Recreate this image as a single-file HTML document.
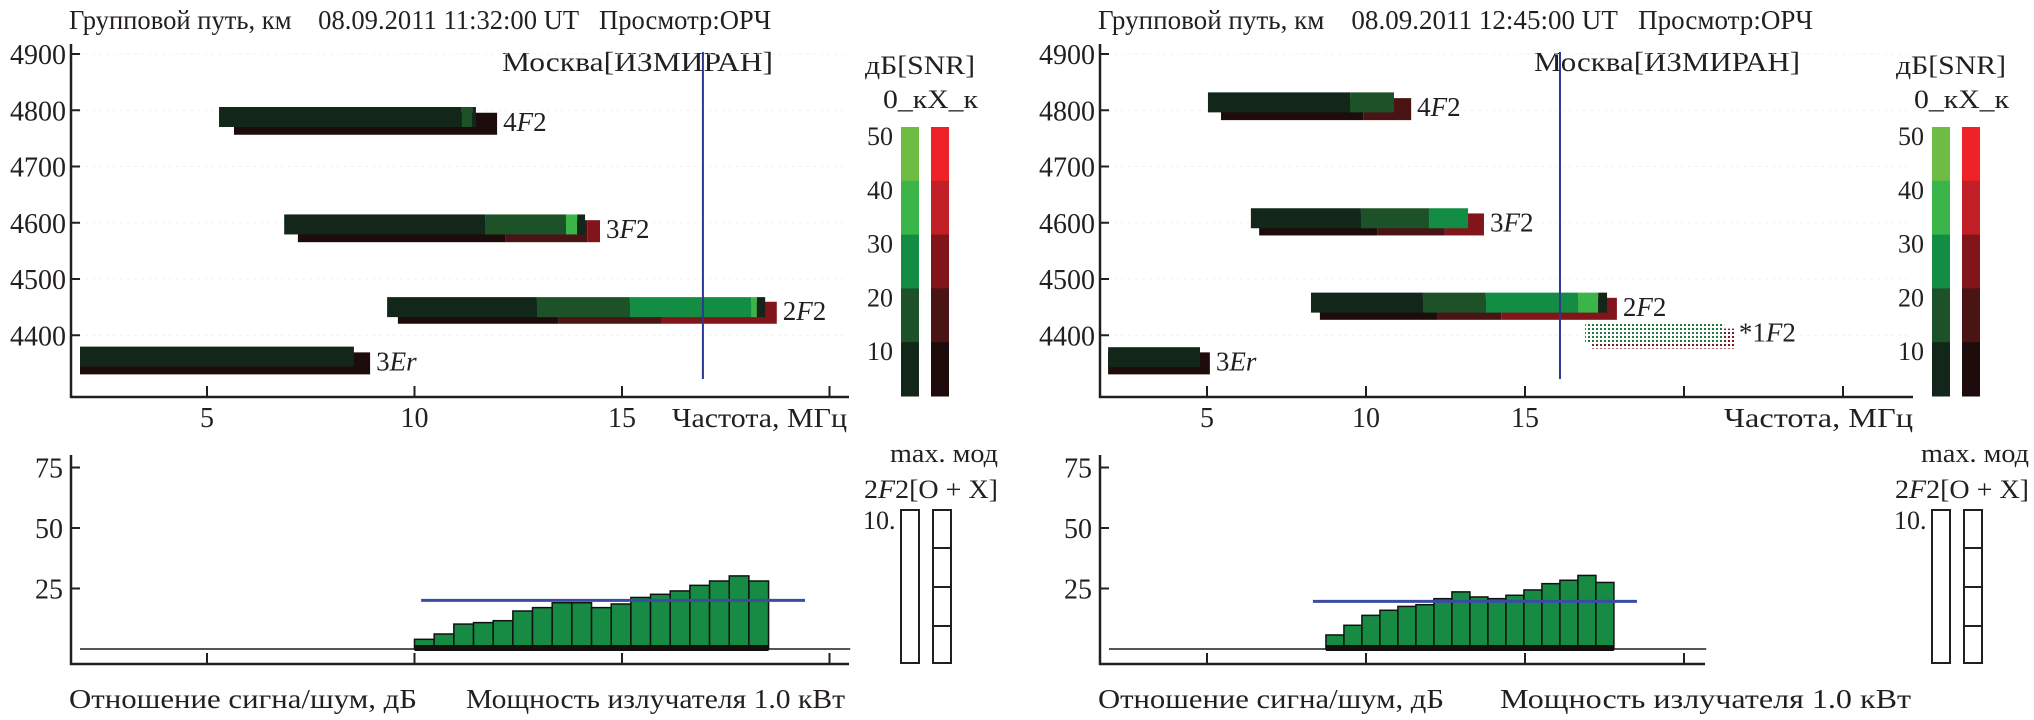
<!DOCTYPE html>
<html><head><meta charset="utf-8">
<style>
html,body{margin:0;padding:0;background:#fff;}
svg{display:block;}
text{font-family:"Liberation Serif","DejaVu Serif",serif;fill:#231f20;}
</style></head>
<body>
<svg id="chart" width="2034" height="720" viewBox="0 0 2034 720" xmlns="http://www.w3.org/2000/svg">
<defs>
<pattern id="dotG" width="4" height="4" patternUnits="userSpaceOnUse"><rect width="2" height="2" fill="#1d7a3a"/></pattern>
<pattern id="dotR" width="4" height="4" patternUnits="userSpaceOnUse"><rect width="2" height="2" fill="#7a1a1e"/></pattern>
</defs>
</svg>
<script>
// ---------- shared scales ----------
const kmTicks = [4900, 4800, 4700, 4600, 4500, 4400];
const snrTicks = [25, 50, 75];
const cbLevels = [50, 40, 30, 20, 10];
const greenPal = ['#12261a', '#1d5229', '#138d43', '#3bb54a', '#6dbd45'];
const redPal = ['#1e0b0c', '#4a1314', '#82151a', '#c21f26', '#ee2227'];

// ---------- left panel data (11:32) ----------
const L_freqTicks = [5, 10, 15, 20];
const L_freqLabels = [5, 10, 15];
const L_traceNames = ['4F2', '3F2', '2F2', '3Er'];
const L_oKm = [4788, 4597, 4450, 4362];
const L_xKm = [4776, 4585, 4440, 4350];
const L_oBounds = [[5.29, 11.14, 11.39, 11.48], [6.86, 11.70, 13.65, 13.92, 14.11], [9.34, 12.95, 15.19, 18.11, 18.25, 18.45], [1.94, 8.54]];
const L_oLevels = [[0, 1, 0], [0, 1, 3, 0], [0, 1, 2, 3, 0], [0]];
const L_xBounds = [[5.65, 11.99], [7.19, 12.20, 14.16, 14.47], [9.60, 13.46, 15.94, 18.73], [1.94, 8.93]];
const L_xLevels = [[0], [0, 1, 2], [0, 1, 2], [0]];
const L_markerFreq = 16.95;
const L_barStart = 10.0;
const L_barWidth = 0.474;
const L_snr = [4.0, 6.2, 10.3, 10.9, 11.7, 15.7, 17.1, 19.1, 19.1, 17.1, 18.6, 21.3, 22.6, 24.0, 26.3, 28.1, 30.2, 28.1];
const L_threshold = 20.1;
const L_threshFrom = 10.16, L_threshTo = 19.41;
const L_title = 'Групповой путь, км\u00a0\u00a0\u00a0\u00a008.09.2011 11:32:00 UT\u00a0\u00a0\u00a0Просмотр:ОРЧ';

// ---------- right panel data (12:45) ----------
const R_freqTicks = [5, 10, 15, 20, 25];
const R_freqLabels = [5, 10, 15];
const R_traceNames = ['4F2', '3F2', '2F2', '3Er'];
const R_oKm = [4814, 4608, 4458, 4361];
const R_xKm = [4802, 4597, 4447, 4350];
const R_oBounds = [[5.03, 9.50, 10.88], [6.38, 9.84, 11.98, 13.21], [8.27, 11.79, 13.77, 16.67, 17.30, 17.58], [1.89, 4.78]];
const R_oLevels = [[0, 1], [0, 1, 2], [0, 1, 2, 3, 0], [0]];
const R_xBounds = [[5.44, 9.91, 11.42], [6.64, 10.35, 12.48, 13.71], [8.55, 12.26, 14.25, 17.89], [1.89, 5.09]];
const R_xLevels = [[0, 1], [0, 1, 2], [0, 1, 2], [0]];
const R_dotName = '*1F2';
const R_dotOKm = 4403, R_dotXKm = 4394;
const R_dotO = [16.89, 21.26];
const R_dotX = [17.11, 21.60];
const R_markerFreq = 16.10;
const R_barStart = 8.74;
const R_barWidth = 0.566;
const R_snr = [5.8, 9.8, 13.9, 16.0, 17.6, 18.3, 20.8, 23.6, 21.5, 20.8, 22.2, 24.4, 27.0, 28.4, 30.4, 27.5];
const R_threshold = 19.7;
const R_threshFrom = 8.33, R_threshTo = 18.52;
const R_title = 'Групповой путь, км\u00a0\u00a0\u00a0\u00a008.09.2011 12:45:00 UT\u00a0\u00a0\u00a0Просмотр:ОРЧ';

const NS = 'http://www.w3.org/2000/svg';
const svg = document.getElementById('chart');
function mk(tag, attrs, parent) {
  const e = document.createElementNS(NS, tag);
  for (const k in attrs) e.setAttribute(k, attrs[k]);
  (parent || svg).appendChild(e);
  return e;
}
function yKm(km) { return 54 + (4900 - km) * 0.5625; }
function ySnr(v) { return 649 - v * 2.42; }

function labelWithItalic(g, x, y, name, size) {
  const t = mk('text', {x: x, y: y, 'font-size': size}, g);
  const m = name.match(/^(\*?\d)([A-Za-z]+)(\d*)$/);
  const a = document.createElementNS(NS, 'tspan'); a.textContent = m[1]; t.appendChild(a);
  const b = document.createElementNS(NS, 'tspan'); b.textContent = m[2]; b.setAttribute('font-style', 'italic'); t.appendChild(b);
  if (m[3]) { const c = document.createElementNS(NS, 'tspan'); c.textContent = m[3]; t.appendChild(c); }
  return t;
}

function drawPanel(P) {
  const xF = f => P.x5 + P.pxPerMHz * (f - 5);
  const g = mk('g', {});
  
  

  const tt = mk('text', {x: P.axisX - 2, y: 29, 'font-size': 27, textLength: P.titleLen, lengthAdjust: 'spacingAndGlyphs'}, g);
  tt.textContent = P.title;
  
  
  const st = mk('text', {x: P.stationX, y: 71, 'font-size': 27, textLength: P.stationLen, lengthAdjust: 'spacingAndGlyphs'}, g);
  st.textContent = 'Москва[ИЗМИРАН]';
  
  

  const top = mk('g', {}, g);
  
  
  kmTicks.forEach(k => {
    const l = mk('line', {x1: P.axisX, x2: P.axisEnd, y1: yKm(k), y2: yKm(k), stroke: '#f0f0f0', 'stroke-width': 1, 'stroke-dasharray': '3 4'}, top);
    
    
  });
  P.traceNames.forEach((nm, i) => {
    const bx = P.xBounds[i];
    for (let s = 0; s < bx.length - 1; s++) {
      const r = mk('rect', {x: xF(bx[s]), y: yKm(P.xKm[i]) - 11, width: xF(bx[s + 1]) - xF(bx[s]), height: 22, fill: redPal[P.xLevels[i][s]]}, top);
      
      
    }
    const bo = P.oBounds[i];
    for (let s = 0; s < bo.length - 1; s++) {
      const r = mk('rect', {x: xF(bo[s]), y: yKm(P.oKm[i]) - 10, width: xF(bo[s + 1]) - xF(bo[s]), height: 20, fill: greenPal[P.oLevels[i][s]]}, top);
      
      
    }
    const endX = Math.max(xF(bo[bo.length - 1]), xF(bx[bx.length - 1]));
    const lb = labelWithItalic(top, endX + 6, Math.max(yKm(P.oKm[i]), yKm(P.xKm[i])) + 7, nm, 27);
    
    
  });
  if (P.dot) {
    const r1 = mk('rect', {x: xF(P.dot.x[0]), y: yKm(P.dot.xKm) - 10, width: xF(P.dot.x[1]) - xF(P.dot.x[0]), height: 20, fill: 'url(#dotR)'}, top);
    
    
    const r2 = mk('rect', {x: xF(P.dot.o[0]), y: yKm(P.dot.oKm) - 10, width: xF(P.dot.o[1]) - xF(P.dot.o[0]), height: 20, fill: 'url(#dotG)'}, top);
    
    
    const lb = labelWithItalic(top, xF(P.dot.x[1]) + 4, yKm(P.dot.oKm) + 8, P.dot.name, 27);
    
    
  }
  const ml = mk('line', {x1: xF(P.marker), x2: xF(P.marker), y1: 52, y2: 379, stroke: '#2b3990', 'stroke-width': 2}, top);
  
  
  const ya = mk('line', {x1: P.axisX, x2: P.axisX, y1: 44, y2: 398, stroke: '#231f20', 'stroke-width': 2.5}, top);
  
  
  const xa = mk('line', {x1: P.axisX - 1, x2: P.axisEnd, y1: 397, y2: 397, stroke: '#231f20', 'stroke-width': 2.5}, top);
  
  
  kmTicks.forEach(k => {
    mk('line', {x1: P.axisX, x2: P.axisX + 9, y1: yKm(k), y2: yKm(k), stroke: '#231f20', 'stroke-width': 2}, top);
    const t = mk('text', {x: P.axisX - 5, y: yKm(k) + 10, 'font-size': 28, 'text-anchor': 'end'}, top);
    t.textContent = k;
    
    
  });
  P.freqTicks.forEach(f => {
    mk('line', {x1: xF(f), x2: xF(f), y1: 397, y2: 386, stroke: '#231f20', 'stroke-width': 2}, top);
  });
  P.freqLabels.forEach(f => {
    const t = mk('text', {x: xF(f), y: 427, 'font-size': 28, 'text-anchor': 'middle'}, top);
    t.textContent = f;
    
    
  });
  const xt = mk('text', {x: P.freqLblX, y: 427, 'font-size': 27, textLength: P.freqLblLen, lengthAdjust: 'spacingAndGlyphs'}, top);
  xt.textContent = 'Частота, МГц';
  
  

  const cb = mk('g', {}, g);
  
  
  const cbTop = 127, cbBot = 396, cbN = cbLevels.length;
  const cbH = (cbBot - cbTop) / cbN;
  cbLevels.forEach((lv, i) => {
    const y0 = cbTop + i * cbH;
    const pi = cbN - 1 - i;
    const a = mk('rect', {x: P.cbX, y: y0, width: 18, height: cbH + 0.5, fill: greenPal[pi]}, cb);
    
    
    const b = mk('rect', {x: P.cbX + 30, y: y0, width: 18, height: cbH + 0.5, fill: redPal[pi]}, cb);
    
    
    const t = mk('text', {x: P.cbX - 8, y: y0 + 18, 'font-size': 26, 'text-anchor': 'end'}, cb);
    t.textContent = lv;
    
    
  });
  const c1 = mk('text', {x: P.cbX - 36, y: 74, 'font-size': 26, textLength: 110, lengthAdjust: 'spacingAndGlyphs'}, cb);
  c1.textContent = 'дБ[SNR]';
  
  
  const c2 = mk('text', {x: P.cbX - 18, y: 108, 'font-size': 26, textLength: 95, lengthAdjust: 'spacingAndGlyphs'}, cb);
  c2.textContent = '0_кX_к';
  
  

  const bot = mk('g', {}, g);
  
  
  snrTicks.forEach(v => {
    mk('line', {x1: P.axisX, x2: P.axisX + 9, y1: ySnr(v), y2: ySnr(v), stroke: '#231f20', 'stroke-width': 2}, bot);
    const t = mk('text', {x: P.axisX - 8, y: ySnr(v) + 10, 'font-size': 28, 'text-anchor': 'end'}, bot);
    t.textContent = v;
    
    
  });
  const gb = mk('line', {x1: P.axisX + 9, x2: xF(P.baseEnd), y1: 649, y2: 649, stroke: '#555', 'stroke-width': 2}, bot);
  
  
  const bw = P.barWidth * P.pxPerMHz;
  P.snr.forEach((v, i) => {
    const x0 = xF(P.barStart + i * P.barWidth);
    const r = mk('rect', {x: x0, y: ySnr(v), width: bw, height: 649 - ySnr(v), fill: '#178a43', stroke: '#111', 'stroke-width': 1.5}, bot);
    
    
  });
  const bs = mk('rect', {x: xF(P.barStart), y: 645, width: bw * P.snr.length, height: 6, fill: '#111'}, bot);
  
  
  const th = mk('line', {x1: xF(P.thFrom), x2: xF(P.thTo), y1: ySnr(P.threshold), y2: ySnr(P.threshold), stroke: '#3b4da3', 'stroke-width': 3}, bot);
  
  
  const ya2 = mk('line', {x1: P.axisX, x2: P.axisX, y1: 455, y2: 665, stroke: '#231f20', 'stroke-width': 2.5}, bot);
  
  
  const xa2 = mk('line', {x1: P.axisX - 1, x2: P.bAxisEnd, y1: 664, y2: 664, stroke: '#231f20', 'stroke-width': 2.5}, bot);
  
  
  P.freqTicks.forEach(f => {
    if (xF(f) < P.bAxisEnd) mk('line', {x1: xF(f), x2: xF(f), y1: 664, y2: 653, stroke: '#231f20', 'stroke-width': 2}, bot);
  });
  const bl1 = mk('text', {x: P.axisX - 2, y: 708, 'font-size': 27, textLength: P.snrLblLen, lengthAdjust: 'spacingAndGlyphs'}, bot);
  bl1.textContent = 'Отношение сигна/шум, дБ';
  
  
  const bl2 = mk('text', {x: P.powX, y: 708, 'font-size': 27, textLength: P.powLen, lengthAdjust: 'spacingAndGlyphs'}, bot);
  bl2.textContent = 'Мощность излучателя 1.0 кВт';
  
  

  const mm = mk('g', {}, g);
  
  
  const m1 = mk('text', {x: P.cbX - 11, y: 462, 'font-size': 26, textLength: 108, lengthAdjust: 'spacingAndGlyphs'}, mm);
  m1.textContent = 'max. мод';
  
  
  const m2 = mk('text', {x: P.cbX - 37, y: 498, 'font-size': 26, textLength: 134, lengthAdjust: 'spacingAndGlyphs'}, mm);
  const s1 = document.createElementNS(NS, 'tspan'); s1.textContent = '2'; m2.appendChild(s1);
  const s2 = document.createElementNS(NS, 'tspan'); s2.textContent = 'F'; s2.setAttribute('font-style', 'italic'); m2.appendChild(s2);
  const s3 = document.createElementNS(NS, 'tspan'); s3.textContent = '2[O + X]'; m2.appendChild(s3);
  
  
  const m3 = mk('text', {x: P.cbX - 38, y: 529, 'font-size': 26}, mm);
  m3.textContent = '10.';
  
  
  const bx1 = mk('rect', {x: P.cbX, y: 510, width: 18, height: 153, fill: '#fff', stroke: '#231f20', 'stroke-width': 2}, mm);
  
  
  const bx2 = mk('rect', {x: P.cbX + 32, y: 510, width: 18, height: 153, fill: '#fff', stroke: '#231f20', 'stroke-width': 2}, mm);
  
  
  [548, 587, 626].forEach(yy => mk('line', {x1: P.cbX + 32, x2: P.cbX + 50, y1: yy, y2: yy, stroke: '#231f20', 'stroke-width': 2}, mm));
}

drawPanel({id: 'left', axisX: 71, axisEnd: 849, bAxisEnd: 849, x5: 207, pxPerMHz: 41.5, title: L_title, titleLen: 702,
  stationX: 502, stationLen: 271, traceNames: L_traceNames, oKm: L_oKm, xKm: L_xKm,
  oBounds: L_oBounds, oLevels: L_oLevels, xBounds: L_xBounds, xLevels: L_xLevels, dot: null,
  marker: L_markerFreq, freqTicks: L_freqTicks, freqLabels: L_freqLabels, freqLblX: 672, freqLblLen: 175, cbX: 901,
  baseEnd: 20.5, barStart: L_barStart, barWidth: L_barWidth, snr: L_snr, threshold: L_threshold,
  thFrom: L_threshFrom, thTo: L_threshTo, snrLblLen: 348, powX: 466, powLen: 379});
drawPanel({id: 'right', axisX: 1100, axisEnd: 1913, bAxisEnd: 1705, x5: 1207, pxPerMHz: 31.8, title: R_title, titleLen: 715,
  stationX: 1534, stationLen: 266, traceNames: R_traceNames, oKm: R_oKm, xKm: R_xKm,
  oBounds: R_oBounds, oLevels: R_oLevels, xBounds: R_xBounds, xLevels: R_xLevels,
  dot: {name: R_dotName, oKm: R_dotOKm, xKm: R_dotXKm, o: R_dotO, x: R_dotX},
  marker: R_markerFreq, freqTicks: R_freqTicks, freqLabels: R_freqLabels, freqLblX: 1724, freqLblLen: 189, cbX: 1932,
  baseEnd: 20.7, barStart: R_barStart, barWidth: R_barWidth, snr: R_snr, threshold: R_threshold,
  thFrom: R_threshFrom, thTo: R_threshTo, snrLblLen: 346, powX: 1500, powLen: 411});
</script>
</body></html>
